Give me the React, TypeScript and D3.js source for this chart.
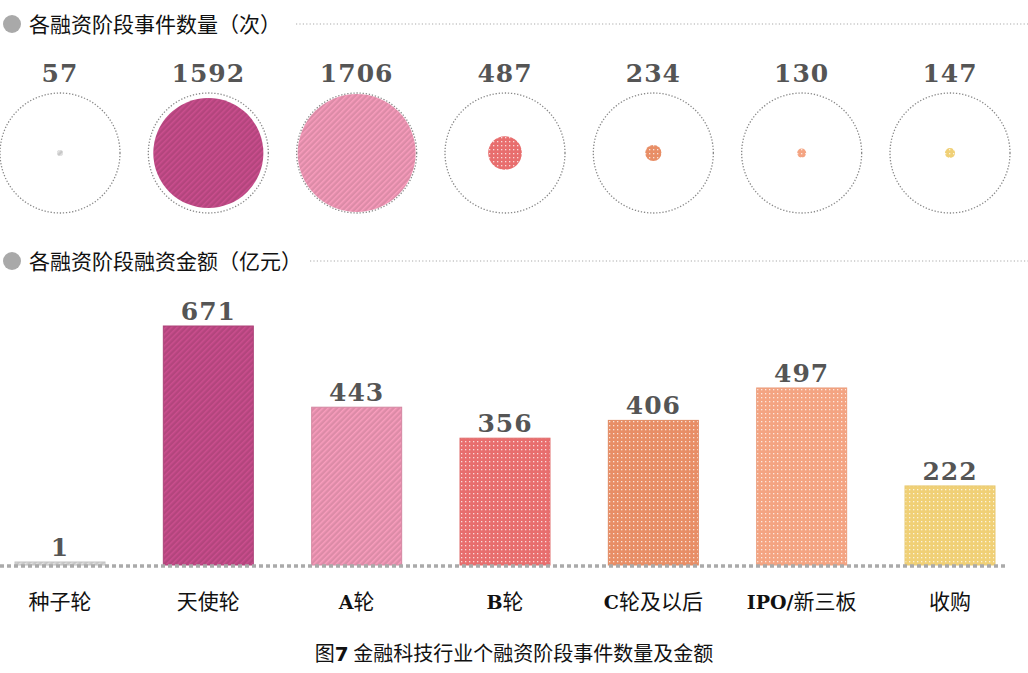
import React from "react";
import * as d3 from "d3";

const categories = ["种子轮", "天使轮", "A轮", "B轮", "C轮及以后", "IPO/新三板", "收购"];
const eventCounts = [57, 1592, 1706, 487, 234, 130, 147];
const amounts = [1, 671, 443, 356, 406, 497, 222];
const colors = ["#c8c8c8", "#b3457d", "#dc8ba7", "#e86e6e", "#e88e66", "#f4a482", "#f0d076"];
const patternKinds = ["stripe", "stripe", "stripe", "dot", "dot", "dot", "dot"];
const sectionTitles = ["各融资阶段事件数量（次）", "各融资阶段融资金额（亿元）"];
const caption = "金融科技行业个融资阶段事件数量及金额";

const W = 1028;
const H = 673;

function XLabel({ text }: { text: string }) {
  const latin = text.match(/^[A-Za-z]+\/?/);
  if (latin) {
    const rest = text.slice(latin[0].length);
    return (
      <>
        <tspan fontWeight="bold" fontFamily="'DejaVu Serif', serif" fontSize={19}>{latin[0]}</tspan>
        <tspan>{rest}</tspan>
      </>
    );
  }
  return <>{text}</>;
}

export default function App() {
  const x = d3.scaleBand<string>().domain(categories).range([15, 995]).paddingInner(0.3933).paddingOuter(0);
  const baseline = 565;
  const y = d3.scaleLinear().domain([0, 671]).range([baseline, 326]);
  const rScale = d3.scaleLinear().domain([0, 1706]).range([0, 59]);
  const cy = 153;
  const cx = (c: string) => (x(c) as number) + x.bandwidth() / 2;
  const cjk = "'Noto Sans CJK SC', sans-serif";
  const numFont = "'DejaVu Serif', serif";

  return (
    <svg width={W} height={H} style={{ position: "absolute", left: 0, top: 0, background: "#fff" }}>
      <defs>
        {colors.map((c, i) =>
          patternKinds[i] === "stripe" ? (
            <pattern key={i} id={`p${i}`} width={4} height={4} patternUnits="userSpaceOnUse" patternTransform="rotate(45)">
              <rect width={4} height={4} fill={c} />
              <rect width={1.5} height={4} fill={d3.color(c)!.brighter(0.35).toString()} />
            </pattern>
          ) : (
            <pattern key={i} id={`p${i}`} width={4} height={4} patternUnits="userSpaceOnUse">
              <rect width={4} height={4} fill={c} />
              <rect x={1} y={1} width={1.3} height={1.3} fill="#fff" opacity={0.75} />
            </pattern>
          )
        )}
      </defs>

      {/* Section headers */}
      {[24, 261].map((hy, i) => (
        <g key={i}>
          <circle cx={12} cy={hy} r={9} fill="#a9a9a9" />
          <text x={29} y={hy + 8} fontFamily={cjk} fontSize={21} fill="#111">{sectionTitles[i]}</text>
          <line x1={i === 0 ? 296 : 310} x2={W} y1={hy} y2={hy} stroke="#aaa" strokeWidth={1.2} strokeDasharray="1.2 2.2" />
        </g>
      ))}

      {/* Circles */}
      {categories.map((c, i) => (
        <g key={c}>
          <text x={cx(c)} y={82} textAnchor="middle" fontFamily={numFont} fontWeight="bold" fontSize={25} letterSpacing={1} fill="#555">
            {eventCounts[i]}
          </text>
          <circle cx={cx(c)} cy={cy} r={60} fill="none" stroke="#888" strokeWidth={1.3} strokeDasharray="1.3 1.8" />
          <circle cx={cx(c)} cy={cy} r={Math.max(3, rScale(eventCounts[i]))} fill={`url(#p${i})`} />
        </g>
      ))}

      {/* Bars */}
      {categories.map((c, i) => {
        const top = Math.min(y(amounts[i]), baseline - 3);
        return (
          <g key={c}>
            <rect x={x(c)} y={top} width={x.bandwidth()} height={baseline - top} fill={`url(#p${i})`}
              stroke={d3.color(colors[i])!.darker(0.1).toString()} strokeWidth={1} />
            <text x={cx(c)} y={top - 6} textAnchor="middle" fontFamily={numFont} fontWeight="bold" fontSize={25} letterSpacing={1} fill="#555">
              {amounts[i]}
            </text>
            <text x={cx(c)} y={609} textAnchor="middle" fontFamily={cjk} fontSize={21} fill="#111">
              <XLabel text={c} />
            </text>
          </g>
        );
      })}

      <line x1={0} x2={1006} y1={baseline + 1} y2={baseline + 1} stroke="#aaa" strokeWidth={3.5} strokeDasharray="4 3" />

      <text x={514} y={661} textAnchor="middle" fontFamily={cjk} fontSize={20} fill="#111">
        <tspan>图</tspan>
        <tspan fontWeight="bold" fontFamily="'DejaVu Sans', sans-serif">7</tspan>
        <tspan> {caption}</tspan>
      </text>
    </svg>
  );
}
